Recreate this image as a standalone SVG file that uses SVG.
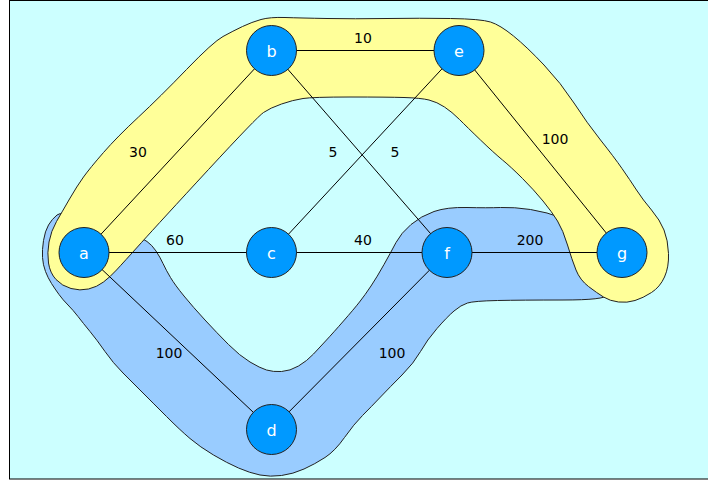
<svg xmlns="http://www.w3.org/2000/svg" width="708" height="480" viewBox="0 0 708 480">
  <style>
    .frame { fill: #CCFFFF; stroke: #000; stroke-width: 1; }
    .hull { stroke: #222; stroke-width: 1; stroke-linejoin: round; }
    .hull-yellow { fill: #FFFF99; }
    .hull-blue { fill: #99CCFF; }
    .edge { stroke: #000; stroke-width: 1; fill: none; }
    .node circle { fill: #0099FF; stroke: #222; stroke-width: 1; }
    .node text { fill: #FFFFFF; font-family: "DejaVu Sans", sans-serif; font-size: 16px; text-anchor: middle; }
    .weight { fill: #000; font-family: "DejaVu Sans", sans-serif; font-size: 14px; text-anchor: middle; }
  </style>

  <rect class="frame" x="9.5" y="0.5" width="710" height="478.5"/>

  <!-- highlighted regions -->
  <g id="region-blue">
    <path class="hull hull-blue" d="M81,215.5 Q100,220 121,229 Q142,238 147,241.5 Q152,245 156,251 Q160,257 163,263.5 Q166,270 170.5,277.5 Q175,285 184,296 Q193,307 205,320 Q217,333 228.5,344.5 Q240,356 250,362 Q260,368 266.5,370 Q273,372 281.5,371.5 Q290,371 298.5,366 Q307,361 313.5,354 Q320,347 326.5,340 Q333,333 343.5,321 Q354,309 359.5,302 Q365,295 371,286 Q377,277 384,264.5 Q391,252 396,242.5 Q401,233 411,224.5 Q421,216 434,211.5 Q447,207 467,207.5 Q487,208 500.5,207.5 Q514,207 530.5,209.5 Q547,212 563.5,218.5 Q580,225 592.5,240 Q605,255 607.5,272.5 Q610,290 607.5,295 Q605,300 563,300 Q521,300 497.5,300.5 Q474,301 467.5,303 Q461,305 454,311 Q447,317 437,328.5 Q427,340 420.5,351.5 Q414,363 402,375 Q390,387 380.5,397 Q371,407 362.5,415.5 Q354,424 344.5,437.5 Q335,451 325,457.5 Q315,464 304,469 Q293,474 281.5,475.5 Q270,477 260,475 Q250,473 238.5,468 Q227,463 213.5,455 Q200,447 190,438.5 Q180,430 166.5,416.5 Q153,403 143,393 Q133,383 123,373 Q113,363 105,351.5 Q97,340 90,331.5 Q83,323 78,316.5 Q73,310 68,305 Q63,300 59,294.5 Q55,289 51.5,283.5 Q48,278 45.5,271.5 Q43,265 42.5,257.5 Q42,250 43.5,240.5 Q45,231 48.5,225 Q52,219 57,215 Q62,211 81,215.5 Z"/>
  </g>
  <g id="region-yellow">
    <path class="hull hull-yellow" d="M138.5,117 Q160,97 186.5,69.5 Q213,42 223,36.5 Q233,31 242.5,26.5 Q252,22 261,19.5 Q270,17 285,17.5 Q300,18 327,18.5 Q354,19 387,18.5 Q420,18 450.5,18.5 Q481,19 490.5,22 Q500,25 513.5,36 Q527,47 544,65 Q561,83 574,103 Q587,123 600.5,140 Q614,157 622,168.5 Q630,180 636.5,190 Q643,200 651.5,210 Q660,220 664,230 Q668,240 668.5,253.5 Q669,267 664.5,277 Q660,287 651.5,292.5 Q643,298 635,300.5 Q627,303 618.5,302 Q610,301 603.5,297 Q597,293 588.5,286.5 Q580,280 576,270 Q572,260 567.5,245 Q563,230 557.5,221 Q552,212 543,201 Q534,190 522.5,178.5 Q511,167 502.5,160 Q494,153 480.5,140 Q467,127 459.5,119.5 Q452,112 444.5,107 Q437,102 429,100 Q421,98 404,97.5 Q387,97 350,97 Q313,97 303,98.5 Q293,100 281.5,104 Q270,108 263.5,112.5 Q257,117 208.5,169.5 Q160,222 141.5,242.5 Q123,263 116.5,270 Q110,277 103.5,282 Q97,287 88.5,289 Q80,291 71,288.5 Q62,286 56,279.5 Q50,273 48.5,263 Q47,253 49,242 Q51,231 56.5,221.5 Q62,212 69.5,199 Q77,186 83.5,177 Q90,168 103.5,152.5 Q117,137 138.5,117 Z"/>
  </g>

  <!-- weighted edges -->
  <g id="edges">
    <line class="edge" x1="84" y1="252.5" x2="271.5" y2="50.5"/>
    <line class="edge" x1="84" y1="252.5" x2="271.5" y2="252.5"/>
    <line class="edge" x1="84" y1="252.5" x2="271.5" y2="429.5"/>
    <line class="edge" x1="271.5" y1="50.5" x2="459" y2="50.5"/>
    <line class="edge" x1="271.5" y1="50.5" x2="447" y2="252.5"/>
    <line class="edge" x1="271.5" y1="252.5" x2="459" y2="50.5"/>
    <line class="edge" x1="271.5" y1="252.5" x2="447" y2="252.5"/>
    <line class="edge" x1="271.5" y1="429.5" x2="447" y2="252.5"/>
    <line class="edge" x1="459" y1="50.5" x2="622" y2="252.5"/>
    <line class="edge" x1="447" y1="252.5" x2="622" y2="252.5"/>

    <text class="weight" x="138" y="157">30</text>
    <text class="weight" x="175" y="245">60</text>
    <text class="weight" x="169" y="358">100</text>
    <text class="weight" x="363" y="43">10</text>
    <text class="weight" x="333" y="157">5</text>
    <text class="weight" x="395" y="157">5</text>
    <text class="weight" x="363" y="245">40</text>
    <text class="weight" x="392" y="358">100</text>
    <text class="weight" x="555" y="144">100</text>
    <text class="weight" x="530" y="245">200</text>
  </g>

  <!-- vertices -->
  <g id="node-a" class="node"><circle cx="84" cy="252.5" r="25"/><text x="84" y="258.5">a</text></g>
  <g id="node-b" class="node"><circle cx="271.5" cy="50.5" r="25"/><text x="271.5" y="56.5">b</text></g>
  <g id="node-c" class="node"><circle cx="271.5" cy="252.5" r="25"/><text x="271.5" y="258.5">c</text></g>
  <g id="node-d" class="node"><circle cx="271.5" cy="429.5" r="25"/><text x="271.5" y="435.5">d</text></g>
  <g id="node-e" class="node"><circle cx="459" cy="50.5" r="25"/><text x="459" y="56.5">e</text></g>
  <g id="node-f" class="node"><circle cx="447" cy="252.5" r="25"/><text x="447" y="258.5">f</text></g>
  <g id="node-g" class="node"><circle cx="622" cy="252.5" r="25"/><text x="622" y="258.5">g</text></g>
</svg>
